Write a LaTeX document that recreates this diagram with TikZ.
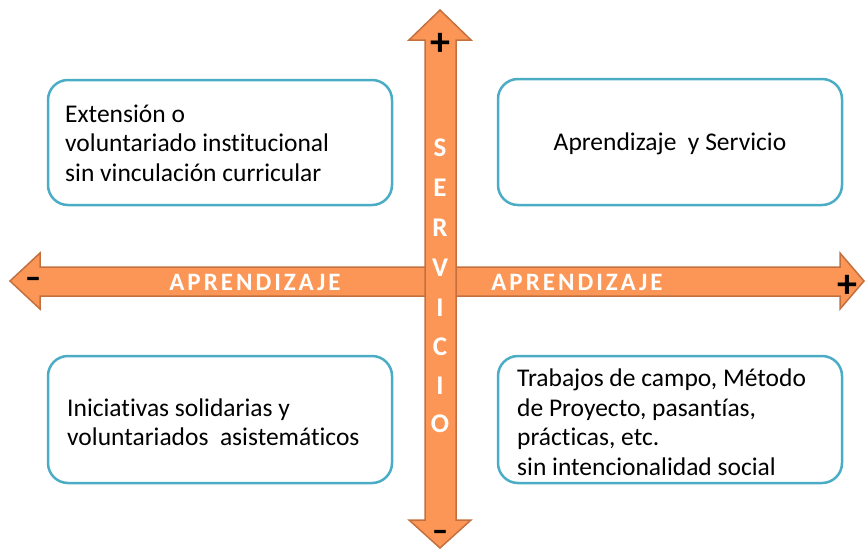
\documentclass[tikz,border=0pt]{standalone}
\usepackage{fontspec}
\setmainfont{Carlito}[Ligatures=NoCommon]
\definecolor{arrowfill}{RGB}{252,150,86}
\definecolor{arrowline}{RGB}{196,112,62}
\definecolor{boxline}{RGB}{75,172,198}
\tikzset{
  bigarrow/.style={fill=arrowfill,draw=arrowline,line width=1.5pt,line join=miter},
  quadbox/.style={draw=boxline,line width=2.5pt,rounded corners=20pt},
  quadtext/.style={align=left,inner sep=0pt,font=\fontsize{25.5}{29.5}\selectfont},
  axislabel/.style={text=white,inner sep=0pt,font=\fontsize{25}{26}\selectfont\bfseries\addfontfeatures{LetterSpace=12}},
  vletter/.style={text=white,inner sep=0pt,font=\fontsize{27}{30}\selectfont\bfseries},
  sign/.style={text=black,inner sep=0pt,font=\fontsize{40}{40}\selectfont\bfseries},
  minussign/.style={text=black,inner sep=0pt,anchor=base,text height=10pt,text depth=0pt,
    font=\fontsize{30}{30}\selectfont\bfseries\addfontfeatures{FakeBold=2.5}}
}
\begin{document}
\begin{tikzpicture}[x=1pt,y=-1pt]
\useasboundingbox (0,0) rectangle (865,549);
% boxes
\draw[quadbox] (48,80) rectangle (392,205);
\draw[quadbox] (498,79) rectangle (842,205);
\draw[quadbox] (48,356) rectangle (392,483);
\draw[quadbox] (498,356) rectangle (842,483);
% horizontal arrow
\draw[bigarrow] (10,281) -- (40,253) -- (40,267) -- (840,267) -- (840,253) -- (864,281)
  -- (840,309) -- (840,296) -- (40,296) -- (40,309) -- cycle;
% vertical arrow
\draw[bigarrow] (440,10) -- (471,40) -- (456,40) -- (456,520) -- (471,520) -- (440,548)
  -- (409,520) -- (425,520) -- (425,40) -- (409,40) -- cycle;
% axis labels
\node[axislabel] (aprL) at (255,282) {APRENDIZAJE};
\node[axislabel] (aprR) at (577,282) {APRENDIZAJE};
\node[vletter] (s1) at (440,148) {S};
\node[vletter] (s2) at (440,188) {E};
\node[vletter] (s3) at (440,228) {R};
\node[vletter] (s4) at (440,268) {V};
\node[vletter] (s5) at (440,308) {I};
\node[vletter] (s6) at (440,347) {C};
\node[vletter] (s7) at (440,386) {I};
\node[vletter] (s8) at (440,424) {O};
% signs
\node[sign] (plusT) at (440,44) {+};
\node[minussign] (minusB) at (440,540) {–};
\node[minussign] (minusL) at (33,287) {–};
\node[sign] (plusR) at (847,286) {+};
% quadrant texts
\node[quadtext,anchor=west] (tl) at (65,143) {Extensión o\\voluntariado institucional\\sin vinculación curricular};
\node[quadtext] (tr) at (670,144) {Aprendizaje\ \ y Servicio};
\node[quadtext,anchor=west] (bl) at (67,422) {Iniciativas solidarias y\\voluntariados\ \ asistemáticos};
\node[quadtext,anchor=west] (br) at (517,422) {Trabajos de campo, Método\\de Proyecto, pasantías,\\prácticas, etc.\\sin intencionalidad social};
\end{tikzpicture}
\end{document}
